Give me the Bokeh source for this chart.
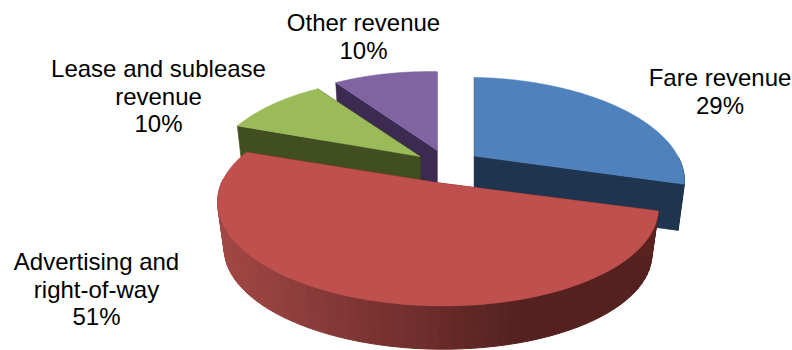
import math
from bokeh.embed import file_html
from bokeh.models import Range1d
from bokeh.plotting import figure
from bokeh.resources import INLINE
from bokeh.core.properties import value as fixed

# Revenue shares, clockwise from twelve o'clock
categories = ["Fare revenue", "Advertising and right-of-way", "Lease and sublease revenue", "Other revenue"]
shares = [29, 51, 10, 10]
label_lines = [["Fare revenue"], ["Advertising and", "right-of-way"], ["Lease and sublease", "revenue"], ["Other revenue"]]
top_colors = ["#4f81bd", "#bf504d", "#9bbb59", "#8064a2"]
wall_colors = ["#1f344f", None, "#414f20", "#3b2b50"]
radial_colors = ["#1f344f", "#5a2320", "#414f20", "#3b2b50"]
label_anchors = [(719.5, 77), (96, 261), (158, 68), (363, 22)]
draw_order = [3, 2, 0, 1]

WIDTH, HEIGHT = 792, 350
CX, CY = 447, 166
EXPLODE_X, EXPLODE_Y = 34, 17
RX, RY, PERSPECTIVE = 205, 96, 0.22
ROLL = 3            # slight tilt of the disc's left-right axis, in px
NEAR_GROWTH = 0.03  # slices swung towards the viewer are drawn a little wider
DEPTH, SHRINK = 47, 0.97
LINE_STEP = 27.5


def top_point(apex, deg, grow):
    """Project a rim point of the tilted disc on to the page."""
    t = math.radians(deg)
    u, v = math.sin(t), math.cos(t)
    s = 1 / (1 + PERSPECTIVE * v)
    return apex[0] + RX * u * s * grow, apex[1] - RY * v * s + ROLL * u


def lower_point(apex, p):
    """Matching point on the underside of the slab."""
    return apex[0] + (p[0] - apex[0]) * SHRINK, apex[1] + (p[1] - apex[1]) * SHRINK + DEPTH


def lerp_hex(a, b, f):
    ca = [int(a[i:i + 2], 16) for i in (1, 3, 5)]
    cb = [int(b[i:i + 2], 16) for i in (1, 3, 5)]
    return "#" + "".join(f"{round(x + (y - x) * f):02x}" for x, y in zip(ca, cb))


def red_wall_color(x):
    f = min(1, max(0, (x - 225) / 295))
    return lerp_hex("#a04644", "#54211f", f)


p = figure(width=WIDTH, height=HEIGHT, output_backend="svg", toolbar_location=None,
           x_range=Range1d(0, WIDTH), y_range=Range1d(HEIGHT, 0),
           min_border=0, outline_line_color=None, background_fill_color="white")
p.axis.visible = False
p.grid.visible = False

# Slice extents in degrees and their exploded apexes
edges = [0]
for s in shares:
    edges.append(edges[-1] + s * 3.6)
apexes, growth = [], []
for i in range(len(shares)):
    mid = math.radians((edges[i] + edges[i + 1]) / 2)
    apexes.append((CX + EXPLODE_X * math.sin(mid), CY - EXPLODE_Y * math.cos(mid)))
    growth.append(1 / (1 + NEAR_GROWTH * (math.cos(mid) - 0.6)))

for i in draw_order:
    a0, a1 = edges[i], edges[i + 1]
    apex = apexes[i]
    n = max(2, int((a1 - a0) / 2.5))
    angles = [a0 + (a1 - a0) * k / n for k in range(n + 1)]
    fine = [a0 + (a1 - a0) * k / (n * 4) for k in range(n * 4 + 1)]
    rim = [top_point(apex, d, growth[i]) for d in angles]
    low = [lower_point(apex, q) for q in rim]

    # Outer wall, in narrow strips so the large slice can carry its shading;
    # strips on the far half of the disc are hidden and left out
    for k in range(n):
        if math.cos(math.radians((angles[k] + angles[k + 1]) / 2)) > 0:
            continue
        quad = [rim[k], rim[k + 1], low[k + 1], low[k]]
        col = wall_colors[i] or red_wall_color((rim[k][0] + rim[k + 1][0]) / 2)
        p.patch([q[0] for q in quad], [q[1] for q in quad], fill_color=col, line_color=col, line_width=1)

    # Cut faces running from the apex to each end of the rim
    low_apex = lower_point(apex, apex)
    for r, l in ((rim[0], low[0]), (rim[-1], low[-1])):
        xs = [apex[0], r[0], l[0], low_apex[0]]
        ys = [apex[1], r[1], l[1], low_apex[1]]
        p.patch(xs, ys, fill_color=radial_colors[i], line_color=radial_colors[i], line_width=0.6)

    # Top face
    outline = [top_point(apex, d, growth[i]) for d in fine]
    xs = [apex[0]] + [q[0] for q in outline]
    ys = [apex[1]] + [q[1] for q in outline]
    p.patch(xs, ys, fill_color=top_colors[i], line_color=top_colors[i], line_width=0.5)

# Category labels with their percentages
for lines, share, (x, y) in zip(label_lines, shares, label_anchors):
    for j, line in enumerate(lines + [f"{share}%"]):
        p.text([x], [y + j * LINE_STEP], text=[line], text_align="center", text_baseline="middle",
               text_font=fixed("Liberation Sans"), text_font_size="24px", text_color="#000000")

open("out.html", "w").write(file_html(p, INLINE))
